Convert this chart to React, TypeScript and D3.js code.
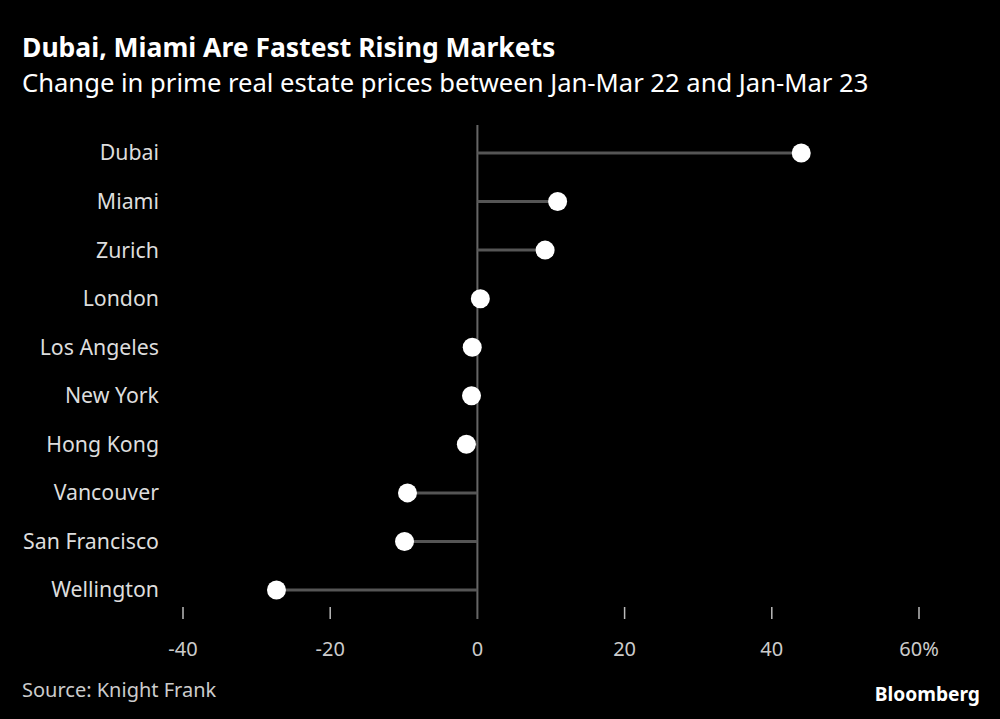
import React from 'react';
import * as d3 from 'd3';

const cities = [
  'Dubai',
  'Miami',
  'Zurich',
  'London',
  'Los Angeles',
  'New York',
  'Hong Kong',
  'Vancouver',
  'San Francisco',
  'Wellington',
];
const changes = [44.0, 10.9, 9.2, 0.4, -0.7, -0.8, -1.5, -9.5, -9.9, -27.3];
const ticks = [-40, -20, 0, 20, 40, 60];

const W = 1000;
const H = 719;
const FONT = '"Source Sans Pro", "Noto Sans", sans-serif';

const App: React.FC = () => {
  const x = d3.scaleLinear().domain([-40, 60]).range([183, 919]);
  const y = d3
    .scalePoint<string>()
    .domain(cities)
    .range([153, 590]);

  const fmt = (t: number) => (t === 60 ? '60%' : String(t));

  return (
    <svg
      width={W}
      height={H}
      style={{ position: 'absolute', left: 0, top: 0, background: '#000' }}
    >
      <rect width={W} height={H} fill="#000" />
      <text x={22} y={57} fill="#fff" fontFamily={FONT} fontWeight={700} fontSize={26.5}>
        Dubai, Miami Are Fastest Rising Markets
      </text>
      <text x={22} y={92} fill="#fff" fontFamily={FONT} fontSize={25.6}>
        Change in prime real estate prices between Jan-Mar 22 and Jan-Mar 23
      </text>

      {/* zero line */}
      <line x1={x(0)} x2={x(0)} y1={125} y2={619} stroke="#666" strokeWidth={2} />

      {/* axis ticks */}
      {ticks.map(t => (
        <g key={t}>
          {t !== 0 && (
            <line x1={x(t)} x2={x(t)} y1={607} y2={619} stroke="#bbb" strokeWidth={1.5} />
          )}
          <text
            x={x(t)}
            y={656}
            fill="#ccc"
            fontFamily={FONT}
            fontSize={20}
            textAnchor="middle"
          >
            {fmt(t)}
          </text>
        </g>
      ))}

      {cities.map((c, i) => {
        const cy = y(c) as number;
        return (
          <g key={c}>
            <text
              x={159}
              y={cy}
              dy="0.35em"
              fill="#ddd"
              fontFamily={FONT}
              fontSize={21.3}
              textAnchor="end"
            >
              {c}
            </text>
            <line
              x1={x(0)}
              x2={x(changes[i])}
              y1={cy}
              y2={cy}
              stroke="#555"
              strokeWidth={3}
            />
            <circle cx={x(changes[i])} cy={cy} r={9.5} fill="#fff" />
          </g>
        );
      })}

      <text x={22} y={697} fill="#ccc" fontFamily={FONT} fontSize={20}>
        Source: Knight Frank
      </text>
      <text
        x={980}
        y={701}
        fill="#fff"
        fontFamily={FONT}
        fontWeight={700}
        fontSize={19.2}
        textAnchor="end"
      >
        Bloomberg
      </text>
    </svg>
  );
};

export default App;
